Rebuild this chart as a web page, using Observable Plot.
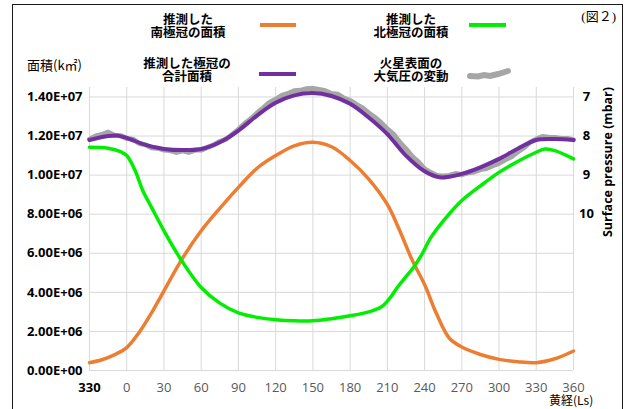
<!DOCTYPE html>
<html><head><meta charset="utf-8">
<script src="https://cdn.jsdelivr.net/npm/d3@7"></script>
<script src="https://cdn.jsdelivr.net/npm/@observablehq/plot@0.6"></script>
<style>
body{margin:0;background:#fff;}
#wrap{position:relative;width:628px;height:409px;overflow:hidden;font-family:"Open Sans","Noto Sans CJK JP",sans-serif;}
.lg{position:absolute;transform:translateX(-50%);text-align:center;font-family:"Noto Sans CJK JP",sans-serif;font-weight:bold;font-size:12.5px;line-height:13px;height:13px;white-space:nowrap;color:#000;}
.sw{position:absolute;height:3.5px;}
.txt{position:absolute;white-space:nowrap;color:#000;}
#frame{position:absolute;left:12px;top:4px;width:609px;height:500px;border:1.5px solid #1a1a1a;pointer-events:none;}
</style></head>
<body><div id="wrap"></div>
<script>
// x ticks (solar longitude Ls)
const xTicks = [-30, 0, 30, 60, 90, 120, 150, 180, 210, 240, 270, 300, 330, 360];
const xTickLabels = ["330", "0", "30", "60", "90", "120", "150", "180", "210", "240", "270", "300", "330", "360"];
// left axis ticks (km²)
const yTicks = [0, 2e6, 4e6, 6e6, 8e6, 1e7, 1.2e7, 1.4e7];
// right axis ticks (mbar, reversed)
const pTicks = [7, 8, 9, 10];

// South polar cap area (million km²)
const southLs = [-30, -20, -10, 0, 10, 20, 30, 45, 60, 75, 90, 105, 120, 135, 150, 165, 180, 195, 210, 220, 230, 240, 250, 260, 270, 285, 300, 315, 330, 345, 360];
const southArea = [0.40, 0.55, 0.80, 1.17, 1.95, 2.95, 4.08, 5.75, 7.15, 8.3, 9.37, 10.35, 11.0, 11.5, 11.68, 11.45, 10.75, 9.8, 8.5, 7.15, 5.65, 4.4, 2.85, 1.65, 1.2, 0.82, 0.57, 0.45, 0.40, 0.6, 1.0];

// North polar cap area (million km²)
const northLs = [-30, -15, -5, 0, 7, 13, 20, 30, 45, 60, 75, 90, 105, 120, 135, 150, 165, 180, 195, 205, 212, 218, 225, 231, 237, 245, 255, 270, 285, 300, 315, 330, 337, 345, 360];
const northArea = [11.43, 11.38, 11.2, 11.0, 10.2, 9.2, 8.35, 7.15, 5.55, 4.25, 3.45, 2.95, 2.72, 2.6, 2.54, 2.54, 2.65, 2.8, 3.0, 3.25, 3.7, 4.25, 4.8, 5.27, 5.85, 6.8, 7.65, 8.7, 9.45, 10.14, 10.7, 11.17, 11.34, 11.25, 10.83];

// Total polar cap area (million km²)
const totalLs = [-30, -15, -8, 0, 15, 30, 45, 60, 75, 90, 105, 120, 135, 150, 165, 180, 195, 210, 225, 240, 252, 260, 270, 285, 300, 315, 330, 345, 360];
const totalArea = [11.8, 12.0, 12.03, 11.9, 11.55, 11.34, 11.28, 11.34, 11.68, 12.28, 13.05, 13.7, 14.08, 14.2, 14.05, 13.65, 12.95, 12.1, 11.0, 10.2, 9.89, 9.92, 10.06, 10.4, 10.83, 11.35, 11.8, 11.85, 11.8];

// Surface pressure (mbar)
const presLs = [-30, -25, -20, -15, -10, -5, 0, 5, 10, 15, 20, 25, 30, 35, 40, 45, 50, 55, 60, 65, 70, 75, 80, 85, 90, 95, 100, 105, 110, 115, 120, 125, 130, 135, 140, 145, 150, 155, 160, 165, 170, 175, 180, 185, 190, 195, 200, 205, 210, 215, 220, 225, 230, 235, 240, 245, 250, 255, 260, 265, 270, 275, 280, 285, 290, 295, 300, 305, 310, 315, 320, 325, 330, 335, 340, 345, 350, 355, 360];
const pressure = [8.08, 8.00, 7.96, 7.90, 7.98, 7.99, 8.06, 8.08, 8.19, 8.22, 8.30, 8.31, 8.36, 8.37, 8.42, 8.38, 8.42, 8.36, 8.36, 8.29, 8.23, 8.14, 8.08, 7.96, 7.83, 7.68, 7.56, 7.41, 7.28, 7.14, 7.06, 6.96, 6.91, 6.84, 6.83, 6.79, 6.78, 6.81, 6.84, 6.91, 6.93, 7.03, 7.09, 7.19, 7.28, 7.41, 7.52, 7.66, 7.82, 7.95, 8.16, 8.33, 8.52, 8.66, 8.84, 8.93, 9.01, 9.02, 9.01, 8.96, 8.99, 8.94, 8.92, 8.86, 8.83, 8.76, 8.70, 8.61, 8.53, 8.41, 8.30, 8.16, 8.08, 8.01, 8.03, 8.04, 8.06, 8.06, 8.10];

// legend entries (two lines each)
const legendLines = [
  ["推測した", "南極冠の面積"],
  ["推測した", "北極冠の面積"],
  ["推測した極冠の", "合計面積"],
  ["火星表面の", "大気圧の変動"]
];

const south = southLs.map((ls, i) => ({ls, v: southArea[i] * 1e6}));
const north = northLs.map((ls, i) => ({ls, v: northArea[i] * 1e6}));
const total = totalLs.map((ls, i) => ({ls, v: totalArea[i] * 1e6}));
const pres = presLs.map((ls, i) => ({ls, p: pressure[i]}));

// secondary (pressure) axis: 7 mbar ↔ 1.4E+07, 1 mbar per 2E+06, reversed
const pToY = p => (14 - p) * 2e6;
const yToP = y => 14 - y / 2e6;
const yMax = 1.474e7;

const fmtE = d => {
  if (d === 0) return "0.00E+00";
  const e = Math.floor(Math.log10(d));
  const m = d / Math.pow(10, e);
  return m.toFixed(2) + "E+" + String(e).padStart(2, "0");
};
const xLab = d => xTickLabels[xTicks.indexOf(d)];

const chart = Plot.plot({
  width: 628, height: 409,
  marginLeft: 89, marginRight: 55, marginTop: 82, marginBottom: 39,
  x: {domain: [-30, 360]},
  y: {domain: [0, yMax]},
  style: {fontFamily: '"Open Sans", "Noto Sans CJK JP", sans-serif', background: "#fff"},
  marks: [
    Plot.ruleX(xTicks, {y1: 0, y2: yMax, stroke: "#d9d9d9", insetBottom: -5}),
    Plot.ruleY(yTicks, {x1: -30, x2: 360, stroke: "#d9d9d9"}),
    Plot.axisX(xTicks.filter(d => d !== -30), {tickSize: 0, tickPadding: 12, fill: "#595959", fontSize: 13, tickFormat: xLab, label: null}),
    Plot.axisX([-30], {tickSize: 0, tickPadding: 12, fill: "#000", fontWeight: "bold", fontSize: 13, tickFormat: xLab, label: null}),
    Plot.axisY(yTicks, {anchor: "left", tickSize: 0, tickPadding: 7, fill: "#000", fontWeight: "bold", fontSize: 13, tickFormat: fmtE, label: null}),
    Plot.axisY(pTicks.map(pToY), {anchor: "right", tickSize: 0, tickPadding: 13, textAnchor: "middle", fill: "#000", fontWeight: "bold", fontSize: 13, tickFormat: d => String(Math.round(yToP(d))), label: null}),
    Plot.line(pres, {x: "ls", y: d => pToY(d.p), stroke: "#a6a6a6", strokeWidth: 5, curve: "linear"}),
    Plot.line(south, {x: "ls", y: "v", stroke: "#ed7d31", strokeWidth: 3.5, curve: "catmull-rom"}),
    Plot.line(north, {x: "ls", y: "v", stroke: "#00ee00", strokeWidth: 3.5, curve: "catmull-rom"}),
    Plot.line(total, {x: "ls", y: "v", stroke: "#7030a0", strokeWidth: 4, curve: "catmull-rom"})
  ]
});

const wrap = document.getElementById("wrap");
wrap.appendChild(chart);

const add = html => wrap.insertAdjacentHTML("beforeend", html);
const legendPos = [[188, 12], [411, 12], [187, 56], [411, 56]];
legendLines.forEach((lines, i) => {
  const [cx, top] = legendPos[i];
  lines.forEach((t, j) => add(`<div class="lg" style="left:${cx}px;top:${top + j * 13}px">${t}</div>`));
});
add('<div class="sw" style="left:260px;top:23px;width:36px;background:#ed7d31"></div>');
add('<div class="sw" style="left:469px;top:23px;width:37px;background:#00ee00"></div>');
add('<div class="sw" style="left:259px;top:72px;width:37px;background:#7030a0"></div>');
add('<svg style="position:absolute;left:466px;top:64px" width="46" height="18"><path d="M4,12 L12,12.5 L18,11 L24,12 L32,10 L42,7" fill="none" stroke="#a6a6a6" stroke-width="6" stroke-linecap="round"/></svg>');
add('<div class="txt" style="left:27px;top:57px;font-size:13px;line-height:15px;height:15px;font-family:\'Noto Sans CJK JP\',sans-serif">面積(k㎡)</div>');
add('<div class="txt" style="left:549px;top:393px;font-size:12px;line-height:13px;height:13px;font-family:\'Noto Sans CJK JP\',sans-serif">黄経(Ls)</div>');
add('<div class="txt" style="right:12px;top:8px;font-size:13px;line-height:18px;font-family:\'Liberation Serif\',\'Noto Sans CJK JP\',serif">(図２)</div>');
add('<div class="txt" style="left:607px;top:162px;transform:translate(-50%,-50%) rotate(-90deg);font-size:12.5px;font-weight:bold;font-family:\'Open Sans\',sans-serif">Surface pressure (mbar)</div>');
add('<div id="frame"></div>');
</script>
</body></html>
